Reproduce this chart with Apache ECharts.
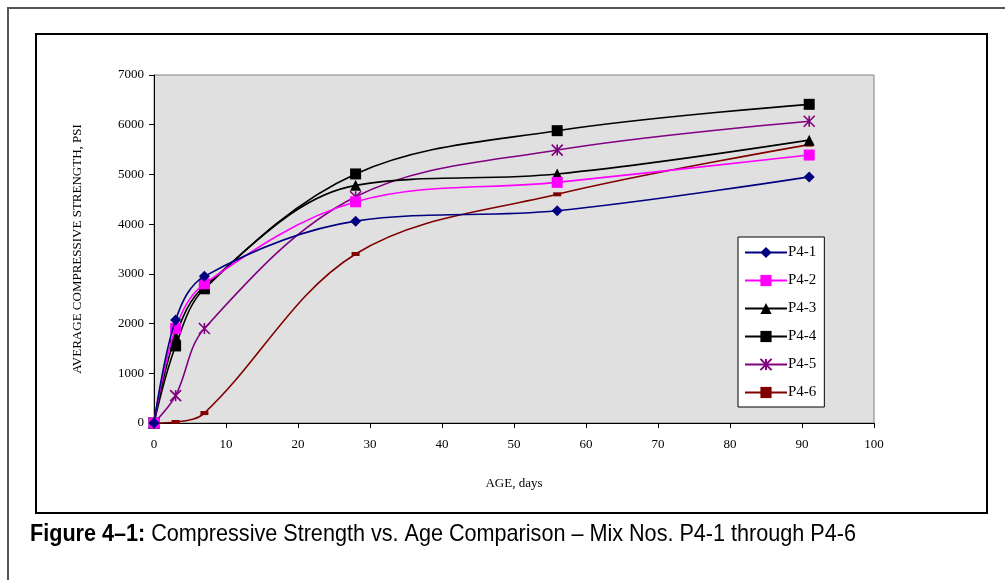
<!DOCTYPE html>
<html>
<head>
<meta charset="utf-8">
<script src="https://cdn.jsdelivr.net/npm/echarts@6/dist/echarts.min.js"></script>
<style>
    html, body { margin: 0; padding: 0; background: #fff; }
    #chart { width: 1005px; height: 580px; }
</style>
</head>
<body>
<div id="chart"></div>
<script>
// ages in days
const ages = [0, 3, 7, 28, 56, 91]
const names = ['P4-1', 'P4-2', 'P4-3', 'P4-4', 'P4-5', 'P4-6']
const p41 = [0, 2070, 2950, 4060, 4270, 4950]
const p42 = [0, 1900, 2800, 4450, 4840, 5390]
const p43 = [0, 1750, 2750, 4780, 5010, 5690]
const p44 = [0, 1550, 2700, 5010, 5880, 6410]
const p45 = [0, 550, 1900, 4550, 5490, 6070]
const p46 = [0, 20, 200, 3400, 4600, 5600]
const values = [p41, p42, p43, p44, p45, p46]

const colors = ['#000080', '#ff00ff', '#000000', '#000000', '#800080', '#800000']
// asterisk: X plus vertical bar, drawn as stroke
const star = 'path://M0,0 L10,10 M10,0 L0,10 M5,0 L5,10'
const symbols = ['diamond', 'rect', 'triangle', 'rect', star, 'rect']
const sizes = [11, 11, 11, 11, 11, [8, 4]]

const serif = '"Liberation Serif", "Times New Roman", serif'

let myChart = echarts.init(document.getElementById('chart'))

let series = names.map((n, i) => ({
    name: n,
    type: 'line',
    smooth: 0.35,
    symbol: symbols[i],
    symbolSize: sizes[i],
    showAllSymbol: true,
    lineStyle: { width: 1.6, color: colors[i] },
    itemStyle: i === 4
        ? { color: colors[i], borderColor: colors[i], borderWidth: 1.6 }
        : { color: colors[i], borderWidth: 0 },
    z: 10 - i,
    data: ages.map((a, j) => [a, values[i][j]])
}))

let option = {
    animation: false,
    backgroundColor: '#fff',
    grid: {
        left: 154,
        right: 131,
        top: 75,
        bottom: 157,
        show: true,
        backgroundColor: '#e0e0e0',
        borderColor: '#808080',
        borderWidth: 1
    },
    legend: {
        orient: 'vertical',
        left: 738,
        top: 237,
        width: 88,
        padding: [8, 8, 7, 6],
        backgroundColor: '#fff',
        borderColor: '#000',
        borderWidth: 1,
        itemWidth: 42,
        itemHeight: 14,
        itemGap: 13,
        textStyle: { fontFamily: serif, fontSize: 15, color: '#000', padding: [0, 0, 0, -4] },
        data: names
    },
    xAxis: {
        type: 'value',
        min: 0,
        max: 100,
        interval: 10,
        name: 'AGE, days',
        nameLocation: 'middle',
        nameGap: 54,
        nameTextStyle: { fontFamily: serif, fontSize: 13, color: '#000' },
        axisLine: { show: true, lineStyle: { color: '#000', width: 1 } },
        axisTick: { show: true, length: 5, lineStyle: { color: '#000' } },
        axisLabel: { fontFamily: serif, fontSize: 13, color: '#000', margin: 15 },
        splitLine: { show: false }
    },
    yAxis: {
        type: 'value',
        min: 0,
        max: 7000,
        interval: 1000,
        name: 'AVERAGE COMPRESSIVE STRENGTH, PSI',
        nameLocation: 'middle',
        nameGap: 70,
        nameTextStyle: { fontFamily: serif, fontSize: 13, color: '#000' },
        axisLine: { show: true, lineStyle: { color: '#000', width: 1 } },
        axisTick: { show: true, length: 5, lineStyle: { color: '#000' } },
        axisLabel: {
            fontFamily: serif, fontSize: 13, color: '#000', margin: 10,
            formatter: function (v) { return String(v) }
        },
        splitLine: { show: false }
    },
    graphic: [
        {
            type: 'rect',
            shape: { x: 8, y: 8, width: 1100, height: 700 },
            style: { fill: 'none', stroke: '#555', lineWidth: 2 },
            silent: true
        },
        {
            type: 'rect',
            shape: { x: 36, y: 34, width: 951, height: 479 },
            style: { fill: 'none', stroke: '#000', lineWidth: 2 },
            silent: true
        },
        {
            type: 'text',
            x: 30,
            y: 522,
            scaleX: 0.9,
            style: {
                text: '{b|Figure 4–1:} Compressive Strength vs. Age Comparison – Mix Nos. P4-1 through P4-6',
                fontFamily: '"Liberation Sans", Arial, sans-serif',
                fontSize: 24,
                fill: '#000',
                rich: {
                    b: {
                        fontFamily: '"Liberation Sans", Arial, sans-serif',
                        fontSize: 24,
                        fontWeight: 'bold',
                        fill: '#000'
                    }
                }
            }
        }
    ],
    series: series
}
myChart.setOption(option)
</script>
</body>
</html>
